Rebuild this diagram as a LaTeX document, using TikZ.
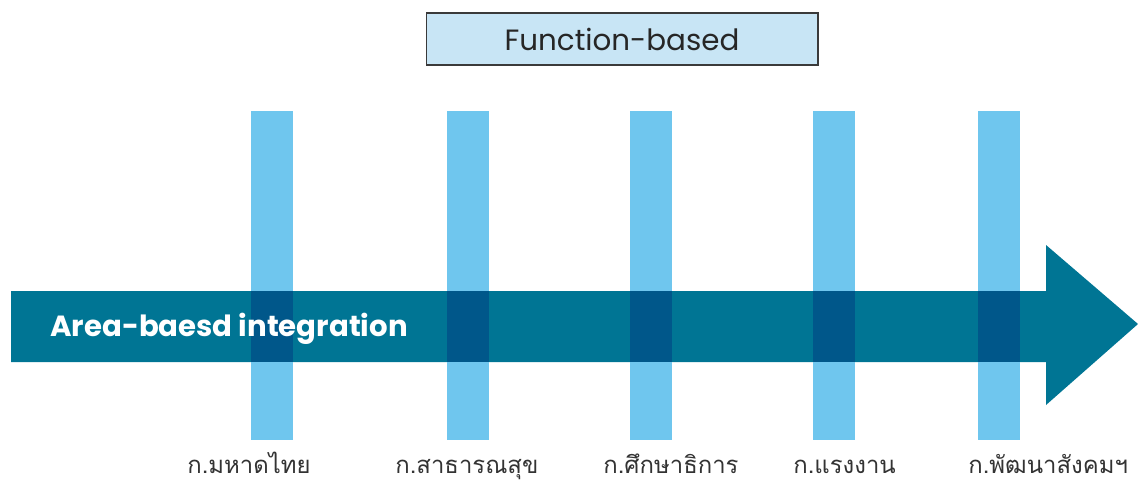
\documentclass[tikz,border=0pt]{standalone}
\usepackage{fontspec}
\setmainfont{Poppins}
\newfontfamily\thaifont[Script=Thai]{Loma}
\definecolor{barc}{HTML}{6FC6EE}
\definecolor{arrowc}{HTML}{007594}
\definecolor{overc}{HTML}{00578A}
\definecolor{titlefill}{HTML}{C8E5F5}
\definecolor{titledraw}{HTML}{3A3A3A}
\definecolor{labelc}{HTML}{333333}
\tikzset{
  barstyle/.style={fill=barc},
  overstyle/.style={fill=overc},
  labelstyle/.style={anchor=base west, text=labelc, inner sep=0pt, font=\thaifont\fontsize{13.6}{16}\selectfont},
  titlestyle/.style={draw=titledraw, line width=0.6pt, fill=titlefill, text=black!85, minimum width=7.84cm, minimum height=1.04cm, inner sep=0pt, font=\fontsize{16.7}{20}\selectfont},
  areastyle/.style={anchor=base west, text=white, inner sep=0pt, font=\bfseries\fontsize{16.6}{20}\selectfont}
}
\begin{document}
\begin{tikzpicture}[x=0.02cm,y=-0.02cm]
\useasboundingbox (0,0) rectangle (1138,483);
\node[titlestyle] (fb) at (622,39) {Function-based};
\fill[arrowc] (11,291) -- (1046,291) -- (1046,245) -- (1138,324) -- (1046,405) -- (1046,362) -- (11,362) -- cycle;
\foreach \x in {251,447,630,813,978}{
  \fill[barstyle] (\x,111) rectangle (\x+42,440);
  \fill[overstyle] (\x,291) rectangle (\x+42,362);
}
\node[areastyle] (area) at (50,336) {Area-baesd integration};
\node[labelstyle] (l1) at (187,473) {ก.มหาดไทย};
\node[labelstyle] (l2) at (395,473) {ก.สาธารณสุข};
\node[labelstyle] (l3) at (603,473) {ก.ศึกษาธิการ};
\node[labelstyle] (l4) at (793,473) {ก.แรงงาน};
\node[labelstyle] (l5) at (968,473) {ก.พัฒนาสังคมฯ};
\end{tikzpicture}
\end{document}
